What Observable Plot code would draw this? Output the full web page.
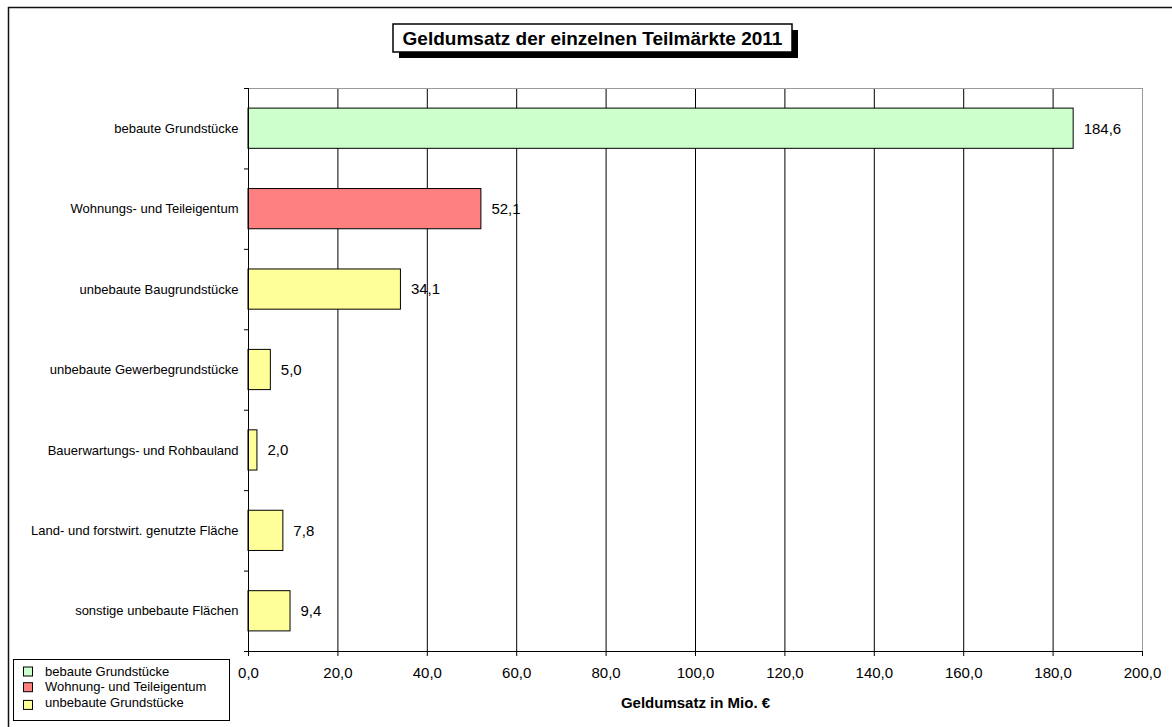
<!DOCTYPE html>
<html>
<head>
<meta charset="utf-8">
<script src="https://cdn.jsdelivr.net/npm/d3@7"></script>
<script src="https://cdn.jsdelivr.net/npm/@observablehq/plot@0.6"></script>
<style>
  html, body { margin: 0; padding: 0; background: #fff; overflow: hidden; }
  svg { display: block; font-family: "Liberation Sans", Arial, sans-serif; }
</style>
</head>
<body>
<div id="chart"></div>
<script>
// Teilmärkte (top to bottom) and their Geldumsatz in Mio. €
const categories = [
  "bebaute Grundstücke",
  "Wohnungs- und Teileigentum",
  "unbebaute Baugrundstücke",
  "unbebaute Gewerbegrundstücke",
  "Bauerwartungs- und Rohbauland",
  "Land- und forstwirt. genutzte Fläche",
  "sonstige unbebaute Flächen"
];
const values = [184.6, 52.1, 34.1, 5.0, 2.0, 7.8, 9.4];
// legend group of each category
const groups = [0, 1, 2, 2, 2, 2, 2];

const legendLabels = ["bebaute Grundstücke", "Wohnung- und Teileigentum", "unbebaute Grundstücke"];
const groupColors = ["#CCFFCC", "#FF8080", "#FFFF99"];

const xTicks = [0, 20, 40, 60, 80, 100, 120, 140, 160, 180, 200];
const titleText = "Geldumsatz der einzelnen Teilmärkte 2011";
const xLabel = "Geldumsatz in Mio. €";

const fmt = v => v.toFixed(1).replace(".", ",");

const rows = categories.map((name, i) => ({name, i, value: values[i], group: groups[i]}));
const n = categories.length;

const W = 1172, H = 727;

const chart = Plot.plot({
  width: W,
  height: H,
  marginLeft: 248,
  marginRight: 30,
  marginTop: 88,
  marginBottom: 76,
  style: {fontFamily: "'Liberation Sans', Arial, sans-serif", color: "#000", background: "#fff"},
  x: {domain: [0, 200], ticks: xTicks},
  y: {domain: [0, n], reverse: true},
  marks: [
    // vertical gridlines
    Plot.ruleX(xTicks.filter(t => t > 0 && t < 200), {stroke: "#000", strokeWidth: 1}),
    // plot area frame (top / right)
    Plot.ruleX([200], {stroke: "#999", strokeWidth: 1}),
    Plot.ruleY([0], {stroke: "#999", strokeWidth: 1}),
    // bars
    Plot.rectX(rows, {
      x1: 0,
      x2: "value",
      y1: d => d.i + 0.25,
      y2: d => d.i + 0.75,
      fill: d => groupColors[d.group],
      stroke: "#000",
      strokeWidth: 1
    }),
    // value labels
    Plot.text(rows, {
      x: "value",
      y: d => d.i + 0.5,
      text: d => fmt(d.value),
      dx: 10,
      textAnchor: "start",
      fontSize: 15,
      fill: "#000"
    }),
    // category labels
    Plot.text(rows, {
      x: 0,
      y: d => d.i + 0.5,
      text: "name",
      dx: -10,
      textAnchor: "end",
      fontSize: 13,
      fill: "#000"
    }),
    // axes
    Plot.ruleX([0], {stroke: "#000", strokeWidth: 1}),
    Plot.ruleY([n], {stroke: "#000", strokeWidth: 1}),
    Plot.axisX({
      ticks: xTicks,
      tickSize: 5,
      tickPadding: 11,
      tickFormat: fmt,
      fontSize: 15,
      label: null,
      stroke: "#000"
    }),
    Plot.axisY({
      ticks: d3.range(n + 1),
      tickSize: 4,
      tickFormat: () => "",
      label: null,
      stroke: "#000"
    }),
    // x axis title
    Plot.text([xLabel], {
      frameAnchor: "bottom",
      dy: 52,
      lineAnchor: "middle",
      fontSize: 15,
      fontWeight: "bold",
      fill: "#000"
    })
  ]
});

document.getElementById("chart").appendChild(chart);

const svg = d3.select(chart);

// outer border of the chart sheet
svg.append("rect")
  .attr("x", 8.5).attr("y", 7.5)
  .attr("width", W + 20).attr("height", H + 20)
  .attr("fill", "none").attr("stroke", "#111").attr("stroke-width", 1.5);

// title box with drop shadow
const tb = {x: 393, y: 24, w: 399, h: 28, off: 6};
svg.append("rect")
  .attr("x", tb.x + tb.off).attr("y", tb.y + tb.off)
  .attr("width", tb.w).attr("height", tb.h)
  .attr("fill", "#000");
svg.append("rect")
  .attr("x", tb.x).attr("y", tb.y)
  .attr("width", tb.w).attr("height", tb.h)
  .attr("fill", "#fff").attr("stroke", "#000").attr("stroke-width", 1.5);
svg.append("text")
  .attr("x", tb.x + tb.w / 2).attr("y", tb.y + 21)
  .attr("text-anchor", "middle")
  .attr("font-size", 19).attr("font-weight", "bold")
  .attr("fill", "#000")
  .text(titleText);

// legend
const lg = svg.append("g").attr("text-anchor", "start");
lg.append("rect")
  .attr("x", 13.5).attr("y", 659.5)
  .attr("width", 216).attr("height", 61)
  .attr("fill", "#fff").attr("stroke", "#000").attr("stroke-width", 1);
legendLabels.forEach((label, k) => {
  const cy = 671 + k * 15.7;
  lg.append("rect")
    .attr("x", 23.5).attr("y", cy - 4 + (k === 2 ? 2 : 0))
    .attr("width", 9).attr("height", 9)
    .attr("fill", groupColors[k]).attr("stroke", "#000").attr("stroke-width", 1);
  lg.append("text")
    .attr("x", 45).attr("y", cy)
    .attr("dy", "0.35em")
    .attr("text-anchor", "start")
    .attr("font-size", 13)
    .attr("fill", "#000")
    .text(label);
});
</script>
</body>
</html>
